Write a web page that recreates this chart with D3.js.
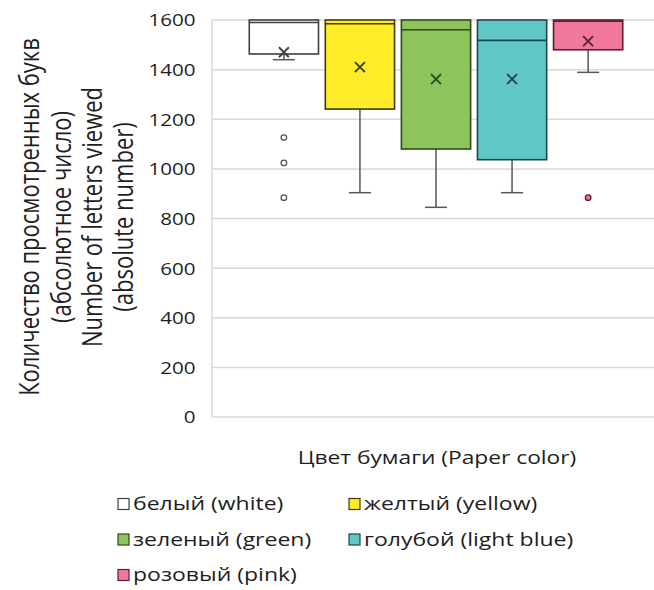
<!DOCTYPE html>
<html>
<head>
<meta charset="utf-8">
<script src="https://cdn.jsdelivr.net/npm/d3@7"></script>
<style>
  body { margin: 0; background: #fff; }
  text { font-family: "Open Sans", sans-serif; fill: #1e1e1e; }
</style>
</head>
<body>
<div id="chart"></div>
<script>
"use strict";

// === Data ===
const categories = ["белый (white)", "желтый (yellow)", "зеленый (green)", "голубой (light blue)", "розовый (pink)"];
const whiskerLow = [1440, 904, 845, 904, 1389];
const q1 = [1463, 1241, 1080, 1037, 1480];
const median = [1590, 1585, 1561, 1518, 1595];
const q3 = [1600, 1600, 1600, 1600, 1600];
const whiskerHigh = [1600, 1600, 1600, 1600, 1600];
const mean = [1470, 1410, 1362, 1362, 1515];
const outliers = [[1126, 1024, 884], [], [], [], [884]];
const yTicks = [0, 200, 400, 600, 800, 1000, 1200, 1400, 1600];

const fills = ["#ffffff", "#ffed29", "#8dc55c", "#5fc7c5", "#f0799b"];
const strokes = ["#404040", "#3d3a10", "#2e4a1c", "#1d4848", "#5c1f33"];

// === SVG setup ===
const svgWidth = 654, svgHeight = 590;
const margin = { top: 20, right: -6, bottom: 173, left: 212 };
const SX = 1.25; // horizontal stretch of the text in the picture

const svg = d3.select("#chart")
  .append("svg")
  .attr("width", svgWidth)
  .attr("height", svgHeight);

// === Scales ===
const xScale = d3.scaleBand()
  .domain(categories)
  .range([margin.left, svgWidth - margin.right])
  .paddingInner(0.09)
  .paddingOuter(0.49);

const yScale = d3.scaleLinear()
  .domain([0, 1600])
  .range([svgHeight - margin.bottom, margin.top]);

// === Gridlines ===
svg.append("g")
  .selectAll("line")
  .data(yTicks)
  .enter()
  .append("line")
  .attr("x1", margin.left)
  .attr("x2", svgWidth)
  .attr("y1", d => yScale(d))
  .attr("y2", d => yScale(d))
  .attr("stroke", "#d9d9d9")
  .attr("stroke-width", 1.5);

svg.append("line")
  .attr("x1", margin.left).attr("x2", margin.left)
  .attr("y1", yScale(1600)).attr("y2", yScale(0))
  .attr("stroke", "#d9d9d9")
  .attr("stroke-width", 1.5);

// === Y axis ===
const yAxis = svg.append("g")
  .attr("transform", `translate(${margin.left}, 0)`)
  .call(d3.axisLeft(yScale).tickValues(yTicks).tickSize(0).tickPadding(11).tickFormat(d3.format("d")));
yAxis.select(".domain").remove();
yAxis.selectAll("text")
  .attr("font-size", "16.5px")
  .attr("font-family", "Open Sans")
  .attr("fill", "#1e1e1e")
  .attr("dy", "0.36em")
  .attr("transform", function () {
    const x = +d3.select(this).attr("x");
    return `translate(${x * (SX - 1)}, 0) scale(${SX}, 1)`;
  });

// === Boxes ===
const boxes = svg.append("g")
  .selectAll("g")
  .data(categories)
  .enter()
  .append("g");

const bw = xScale.bandwidth();
const capW = 22;

// lower whisker
boxes.append("line")
  .attr("x1", (d) => xScale(d) + bw / 2)
  .attr("x2", (d) => xScale(d) + bw / 2)
  .attr("y1", (d, i) => yScale(q1[i]))
  .attr("y2", (d, i) => yScale(whiskerLow[i]))
  .attr("stroke", "#555")
  .attr("stroke-width", 1.5);

boxes.append("line")
  .attr("x1", (d) => xScale(d) + bw / 2 - capW / 2)
  .attr("x2", (d) => xScale(d) + bw / 2 + capW / 2)
  .attr("y1", (d, i) => yScale(whiskerLow[i]))
  .attr("y2", (d, i) => yScale(whiskerLow[i]))
  .attr("stroke", "#555")
  .attr("stroke-width", 1.5);

// upper whisker (sits on the box top)
boxes.append("line")
  .attr("x1", (d) => xScale(d) + bw / 2)
  .attr("x2", (d) => xScale(d) + bw / 2)
  .attr("y1", (d, i) => yScale(q3[i]))
  .attr("y2", (d, i) => yScale(whiskerHigh[i]))
  .attr("stroke", "#555")
  .attr("stroke-width", 1.5);

boxes.append("rect")
  .attr("x", d => xScale(d))
  .attr("y", (d, i) => yScale(q3[i]))
  .attr("width", bw)
  .attr("height", (d, i) => yScale(q1[i]) - yScale(q3[i]))
  .attr("fill", (d, i) => fills[i])
  .attr("stroke", (d, i) => strokes[i])
  .attr("stroke-width", 1.6);

boxes.append("line")
  .attr("x1", d => xScale(d))
  .attr("x2", d => xScale(d) + bw)
  .attr("y1", (d, i) => yScale(median[i]))
  .attr("y2", (d, i) => yScale(median[i]))
  .attr("stroke", (d, i) => strokes[i])
  .attr("stroke-width", 1.6);

// mean markers
const mk = 5;
boxes.append("path")
  .attr("d", (d, i) => {
    const cx = xScale(d) + bw / 2, cy = yScale(mean[i]);
    return `M${cx - mk},${cy - mk}L${cx + mk},${cy + mk}M${cx - mk},${cy + mk}L${cx + mk},${cy - mk}`;
  })
  .attr("stroke", (d, i) => strokes[i])
  .attr("stroke-width", 1.8)
  .attr("fill", "none");

// outliers
boxes.each(function (d, i) {
  d3.select(this).selectAll("circle")
    .data(outliers[i])
    .enter()
    .append("circle")
    .attr("cx", xScale(d) + bw / 2)
    .attr("cy", v => yScale(v))
    .attr("r", 2.8)
    .attr("fill", fills[i])
    .attr("stroke", i === 0 ? "#555" : strokes[i])
    .attr("stroke-width", 1.3);
});

// === Axis titles ===
function stretched(x, y, extra) {
  return `translate(${x}, ${y}) scale(${SX}, 1)${extra || ""}`;
}

svg.append("text")
  .attr("transform", stretched(437, 464))
  .attr("text-anchor", "middle")
  .attr("font-size", "18.2px")
  .text("Цвет бумаги (Paper color)");

const yTitle = ["Количество просмотренных букв", "(абсолютное число)", "Number of letters viewed", "(absolute number)"];
yTitle.forEach((t, i) => {
  svg.append("text")
    .attr("transform", stretched(32 + i * 31.3, 217, " rotate(-90)"))
    .attr("text-anchor", "middle")
    .attr("dominant-baseline", "middle")
    .attr("font-size", "22px")
    .text(t);
});

// === Legend ===
const legendX = [118, 349];
const legendY = [504, 539.5, 575];
categories.forEach((c, i) => {
  const lx = legendX[i % 2], ly = legendY[Math.floor(i / 2)];
  svg.append("rect")
    .attr("x", lx)
    .attr("y", ly - 5.5)
    .attr("width", 11)
    .attr("height", 11)
    .attr("fill", fills[i])
    .attr("stroke", strokes[i])
    .attr("stroke-width", 1.2);
  svg.append("text")
    .attr("transform", stretched(lx + 15, ly + 6))
    .attr("font-size", "18.4px")
    .text(c);
});
</script>
</body>
</html>
